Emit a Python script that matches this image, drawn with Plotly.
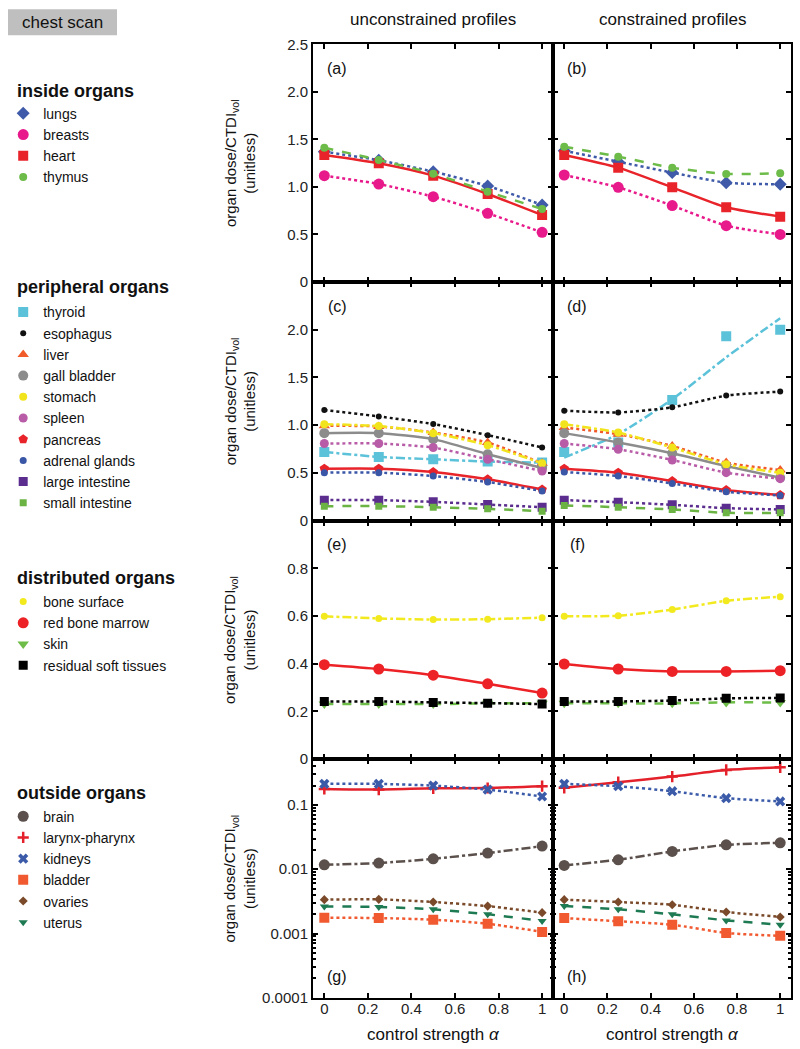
import plotly.graph_objects as go
from plotly.subplots import make_subplots

W, H = 800, 1049
FONT = "Liberation Sans, Arial, Helvetica, sans-serif"

alpha = [0, 0.25, 0.5, 0.75, 1]

# ---- inside organs (panels a, b) ----
lungs_unc = [1.37, 1.28, 1.16, 1.01, 0.81]
lungs_con = [1.38, 1.265, 1.15, 1.044, 1.027]
breasts_unc = [1.118, 1.03, 0.897, 0.722, 0.522]
breasts_con = [1.125, 0.995, 0.803, 0.592, 0.50]
heart_unc = [1.335, 1.248, 1.118, 0.925, 0.704]
heart_con = [1.335, 1.202, 0.995, 0.785, 0.687]
thymus_unc = [1.412, 1.283, 1.139, 0.95, 0.767]
thymus_con = [1.423, 1.318, 1.202, 1.136, 1.143]

# ---- peripheral organs (panels c, d) ----
thyroid_unc = [0.719, 0.667, 0.642, 0.618, 0.607]
thyroid_con = [0.719, 0.818, 1.263, 1.93, 2.0]
thyroid_con_fit = [0.66, 0.905, 1.27, 1.71, 2.12]   # fitted curve
esophagus_unc = [1.158, 1.091, 1.011, 0.895, 0.765]
esophagus_con = [1.151, 1.133, 1.186, 1.309, 1.351]
liver_unc = [0.993, 0.986, 0.923, 0.818, 0.60]
liver_con = [0.975, 0.905, 0.782, 0.607, 0.53]
gall_unc = [0.916, 0.916, 0.853, 0.695, 0.55]
gall_con = [0.916, 0.818, 0.705, 0.572, 0.449]
stomach_unc = [1.01, 0.99, 0.916, 0.79, 0.60]
stomach_con = [1.01, 0.923, 0.765, 0.59, 0.50]
spleen_unc = [0.807, 0.807, 0.765, 0.642, 0.519]
spleen_con = [0.807, 0.747, 0.635, 0.502, 0.439]
pancreas_unc = [0.544, 0.544, 0.509, 0.432, 0.326]
pancreas_con = [0.544, 0.502, 0.414, 0.319, 0.267]
adrenal_unc = [0.502, 0.502, 0.467, 0.404, 0.309]
adrenal_con = [0.509, 0.467, 0.389, 0.302, 0.263]
largeint_unc = [0.214, 0.214, 0.196, 0.168, 0.14]
largeint_con = [0.214, 0.193, 0.165, 0.13, 0.116]
smallint_unc = [0.151, 0.151, 0.14, 0.123, 0.098]
smallint_con = [0.158, 0.14, 0.116, 0.081, 0.081]

# ---- distributed organs (panels e, f) ----
bonesurf_unc = [0.599, 0.590, 0.585, 0.587, 0.593]
bonesurf_con = [0.599, 0.601, 0.627, 0.664, 0.681]
marrow_unc = [0.396, 0.378, 0.352, 0.316, 0.277]
marrow_con = [0.399, 0.378, 0.368, 0.368, 0.371]
skin_unc = [0.231, 0.231, 0.231, 0.234, 0.235]
skin_con = [0.234, 0.234, 0.234, 0.238, 0.238]
residual_unc = [0.242, 0.242, 0.238, 0.235, 0.231]
residual_con = [0.242, 0.242, 0.246, 0.255, 0.257]

# ---- outside organs (panels g, h) ----
brain_unc = [0.0117, 0.01245, 0.01452, 0.0178, 0.02285]
brain_con = [0.01143, 0.0140, 0.0189, 0.0239, 0.0257]
larynx_unc = [0.177, 0.173, 0.181, 0.183, 0.195]
larynx_con = [0.184, 0.225, 0.275, 0.349, 0.384]
kidneys_unc = [0.212, 0.212, 0.199, 0.173, 0.135]
kidneys_con = [0.212, 0.195, 0.163, 0.127, 0.113]
bladder_unc = [0.00176, 0.00174, 0.00164, 0.00142, 0.00106]
bladder_con = [0.00174, 0.00155, 0.00137, 0.00102, 0.00092]
ovaries_unc = [0.00336, 0.0034, 0.00309, 0.00267, 0.00211]
ovaries_con = [0.00336, 0.00309, 0.0028, 0.00216, 0.00181]
uterus_unc = [0.00264, 0.00259, 0.00238, 0.00199, 0.00157]
uterus_con = [0.00267, 0.00238, 0.00199, 0.0016, 0.00137]

# name, unc, con, color, symbol, size, dash, row, legend
organs = [
    ("lungs", lungs_unc, lungs_con, "#3f5aa8", "diamond", 10, "dot", 1, "legend"),
    ("breasts", breasts_unc, breasts_con, "#e8198b", "circle", 11, "dot", 1, "legend"),
    ("heart", heart_unc, heart_con, "#e8232a", "square", 10, "solid", 1, "legend"),
    ("thymus", thymus_unc, thymus_con, "#6dbb48", "circle", 8, "dash", 1, "legend"),
    ("thyroid", thyroid_unc, thyroid_con, "#5bc2d9", "square", 10, "dashdot", 2, "legend2"),
    ("esophagus", esophagus_unc, esophagus_con, "#111111", "circle", 6, "dot", 2, "legend2"),
    ("liver", liver_unc, liver_con, "#f15a29", "triangle-up", 10, "dot", 2, "legend2"),
    ("gall bladder", gall_unc, gall_con, "#8c8c8c", "circle", 10, "solid", 2, "legend2"),
    ("stomach", stomach_unc, stomach_con, "#f2e41c", "circle", 8, "dashdot", 2, "legend2"),
    ("spleen", spleen_unc, spleen_con, "#b85ca8", "circle", 9, "dot", 2, "legend2"),
    ("pancreas", pancreas_unc, pancreas_con, "#e8232a", "pentagon", 10, "solid", 2, "legend2"),
    ("adrenal glands", adrenal_unc, adrenal_con, "#3a56a6", "circle", 7, "dot", 2, "legend2"),
    ("large intestine", largeint_unc, largeint_con, "#5b2d8e", "square", 9, "dot", 2, "legend2"),
    ("small intestine", smallint_unc, smallint_con, "#6bb443", "square", 7, "dash", 2, "legend2"),
    ("bone surface", bonesurf_unc, bonesurf_con, "#f2ea1e", "circle", 7, "dashdot", 3, "legend3"),
    ("red bone marrow", marrow_unc, marrow_con, "#ed2226", "circle", 11, "solid", 3, "legend3"),
    ("skin", skin_unc, skin_con, "#6dbd48", "triangle-down", 10, "dash", 3, "legend3"),
    ("residual soft tissues", residual_unc, residual_con, "#000000", "square", 9, "dot", 3, "legend3"),
    ("brain", brain_unc, brain_con, "#5b504b", "circle", 11, "dashdot", 4, "legend4"),
    ("larynx-pharynx", larynx_unc, larynx_con, "#e4202a", "cross-thin", 8, "solid", 4, "legend4"),
    ("kidneys", kidneys_unc, kidneys_con, "#3b5ba9", "x", 9, "dot", 4, "legend4"),
    ("bladder", bladder_unc, bladder_con, "#f15a31", "square", 10, "dot", 4, "legend4"),
    ("ovaries", ovaries_unc, ovaries_con, "#7a4a2b", "diamond", 7, "dot", 4, "legend4"),
    ("uterus", uterus_unc, uterus_con, "#1e7a52", "triangle-down", 8, "dash", 4, "legend4"),
]

line_override = {("thyroid", 2): thyroid_con_fit}

fig = make_subplots(rows=4, cols=2, horizontal_spacing=0, vertical_spacing=0)

for name, unc, con, color, sym, size, dash, row, leg in organs:
    for col, vals in ((1, unc), (2, con)):
        lvals = line_override.get((name, col), vals)
        fig.add_trace(go.Scatter(
            x=alpha, y=lvals, mode="lines",
            line=dict(color=color, width=2.5, dash=dash, shape="spline", smoothing=0.6),
            showlegend=False, hoverinfo="skip"), row=row, col=col)
        mk = dict(color=color, symbol=sym, size=size)
        if sym in ("cross-thin", "x-thin"):
            mk["line"] = dict(color=color, width=2.5)
        fig.add_trace(go.Scatter(
            x=alpha, y=vals, mode="markers", marker=mk, name=name,
            legend=leg, showlegend=(col == 1)), row=row, col=col)


def px_x(p):
    return p / W


# the photographed page is slightly compressed vertically; map target pixel -> paper
def px_y(p):
    q = (p - 8.65) / 0.9853
    return 1 - q / H


xdom = [(px_x(313), px_x(553)), (px_x(553), px_x(791))]
row_px = [44, 282, 521, 760, 999]
ydom = [(px_y(row_px[i + 1]), px_y(row_px[i])) for i in range(4)]

xticks = [0, 0.2, 0.4, 0.6, 0.8, 1]
xtext = ["0", "0.2", "0.4", "0.6", "0.8", "1"]

ycfg = [
    dict(range=[0, 2.5], tickvals=[0, 0.5, 1.0, 1.5, 2.0, 2.5], ticktext=["0", "0.5", "1.0", "1.5", "2.0", "2.5"]),
    dict(range=[0, 2.5], tickvals=[0, 0.5, 1.0, 1.5, 2.0, 2.5], ticktext=["0", "0.5", "1.0", "1.5", "2.0", ""]),
    dict(range=[0, 1.0], tickvals=[0, 0.2, 0.4, 0.6, 0.8, 1.0], ticktext=["0", "0.2", "0.4", "0.6", "0.8", ""]),
    dict(type="log", range=[-4, -0.29], tickvals=[0.0001, 0.001, 0.01, 0.1],
         ticktext=["0.0001", "0.001", "0.01", "0.1"],
         minor=dict(ticks="inside", ticklen=3, tickcolor="black", dtick="D1", showgrid=False)),
]

axstyle = dict(showline=True, linecolor="black", linewidth=2, mirror="ticks", ticks="inside",
               ticklen=5, tickwidth=1.5, tickcolor="black", showgrid=False, zeroline=False,
               tickfont=dict(family=FONT, size=15, color="#222"))

for r in range(4):
    for c in range(2):
        fig.update_xaxes(domain=list(xdom[c]), range=[-0.052, 1.05], tickvals=xticks, ticktext=xtext,
                         showticklabels=(r == 3), ticklabelstandoff=-4, **axstyle,
                         row=r + 1, col=c + 1)
        fig.update_yaxes(domain=list(ydom[r]), showticklabels=(c == 0), **ycfg[r], **axstyle,
                         row=r + 1, col=c + 1)

annotations = []


def ann(text, x, y, size=15, bold=False, xanchor="center", **kw):
    if bold:
        text = "<b>" + text + "</b>"
    d = dict(text=text, x=px_x(x), y=px_y(y), xref="paper", yref="paper", showarrow=False,
             xanchor=xanchor, yanchor="middle",
             font=dict(family=FONT, size=size, color="#111"))
    d.update(kw)
    annotations.append(d)


# column titles
ann("unconstrained profiles", 433, 19, size=17)
ann("constrained profiles", 672, 19, size=17)

# panel letters
for lab, x, y in (("(a)", 337, 68), ("(b)", 577, 68), ("(c)", 337, 307), ("(d)", 577, 307),
                  ("(e)", 337, 545), ("(f)", 577, 545), ("(g)", 337, 978), ("(h)", 577, 978)):
    ann(lab, x, y, size=16)

# y titles
for r in range(4):
    yc = (row_px[r] + row_px[r + 1]) / 2
    ann("organ dose/CTDI<sub>vol</sub><br>(unitless)", 240, yc, size=15, textangle=-90)

# x titles
ann("control strength <i>α</i>", 433, 1036, size=17)
ann("control strength <i>α</i>", 672, 1036, size=17)

# chest scan label
ann("chest scan", 62, 22, size=17)

# group titles
for t, y in (("inside organs", 91), ("peripheral organs", 287), ("distributed organs", 579),
             ("outside organs", 794)):
    ann(t, 15, y, size=18, bold=True, xanchor="left")

legbase = dict(bgcolor="rgba(0,0,0,0)", font=dict(family=FONT, size=14, color="#111"),
               itemsizing="trace", tracegroupgap=0, xanchor="left", yanchor="top", x=0.004)
legends = {}
for key, top in (("legend", 97.5), ("legend2", 296.5), ("legend3", 586.5), ("legend4", 801.5)):
    lg = dict(legbase)
    lg["y"] = px_y(top)
    legends[key] = lg

fig.update_layout(
    width=W, height=H, margin=dict(l=0, r=0, t=0, b=0),
    paper_bgcolor="white", plot_bgcolor="white",
    annotations=annotations,
    shapes=[dict(type="rect", xref="paper", yref="paper", x0=px_x(8), x1=px_x(117), y0=px_y(35),
                 y1=px_y(9), fillcolor="#bfbfbf", line=dict(width=0), layer="below")],
    **legends,
)

fig.write_html("out.html", config={"displayModeBar": False},
               post_script="document.body.style.margin='0';")
